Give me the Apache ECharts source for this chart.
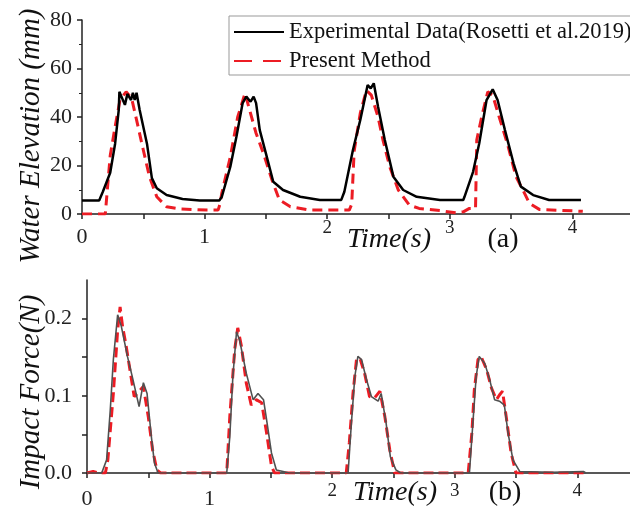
<!DOCTYPE html>
<html>
<head>
<meta charset="utf-8">
<script src="https://cdn.jsdelivr.net/npm/echarts@6/dist/echarts.min.js"></script>
<style>
  html, body { margin: 0; padding: 0; background: #fff; }
  #main { width: 630px; height: 514px; }
</style>
</head>
<body>
<div id="main"></div>
<script>
// (a) water elevation, mm
const expTimeA = [0, 0.14, 0.17, 0.23, 0.27, 0.30, 0.305, 0.35, 0.37, 0.40, 0.415, 0.43, 0.445, 0.47, 0.53, 0.57, 0.61, 0.69, 0.82, 0.96, 1.12,
  1.14, 1.21, 1.26, 1.31, 1.34, 1.375, 1.40, 1.42, 1.45, 1.50, 1.56, 1.64, 1.78, 1.94, 2.115,
  2.14, 2.21, 2.27, 2.31, 2.33, 2.355, 2.38, 2.415, 2.47, 2.54, 2.62, 2.73, 2.92, 3.11,
  3.12, 3.19, 3.24, 3.30, 3.35, 3.39, 3.45, 3.52, 3.58, 3.68, 3.81, 4.07];
const expElevA = [5.6, 5.6, 9.2, 17, 29, 43, 50.4, 45, 49.5, 47, 50, 47, 50, 43, 29, 14.8, 10.6, 7.8, 6.2, 5.6, 5.6,
  7, 19.5, 32, 45.7, 48.4, 46.3, 48.4, 45.7, 34.6, 25, 13.3, 9.9, 7.1, 5.8, 5.8,
  9.2, 26.4, 38.8, 48.4, 53.2, 51.8, 53.9, 44.2, 30.5, 15.4, 9.9, 7.1, 5.8, 5.8,
  7.1, 17.4, 29.1, 47, 51.4, 47, 34.6, 20.9, 11.3, 7.8, 5.8, 5.8];
const simTimeA = [0, 0.19, 0.20, 0.21, 0.23, 0.27, 0.31, 0.36, 0.405, 0.445, 0.50, 0.55, 0.61, 0.69, 0.80, 1.02, 1.11,
  1.125, 1.14, 1.21, 1.27, 1.33, 1.36, 1.42, 1.48, 1.55, 1.61, 1.70, 1.86, 2.18,
  2.20, 2.22, 2.27, 2.32, 2.36, 2.415, 2.455, 2.51, 2.58, 2.67, 2.75, 2.92, 3.05, 3.11, 3.16, 3.21,
  3.22, 3.26, 3.31, 3.35, 3.41, 3.47, 3.54, 3.61, 3.65, 3.73, 4.085];
const simElevA = [0, 0, 0, 12, 24, 36, 47, 50.4, 47.7, 38.8, 26.4, 15.4, 7.1, 3, 2.1, 1.6, 1.6,
  4, 8.5, 23.6, 40, 49.8, 44.2, 33.3, 25, 14, 5.8, 3, 1.6, 1.6,
  4, 26, 41.6, 51, 49, 40, 30.5, 19.5, 9.9, 3.7, 2.3, 1.4, 0.5, 0.9, 2.3, 2.3,
  30.5, 40, 50.4, 49, 38.8, 29, 15.4, 8.5, 4.4, 1.9, 1.1];

// (b) impact force, N
const expTimeB = [0, 0.12, 0.16, 0.19, 0.215, 0.25, 0.28, 0.33, 0.375, 0.425, 0.46, 0.49, 0.525, 0.55, 0.58,
  1.14, 1.165, 1.19, 1.22, 1.245, 1.30, 1.355, 1.395, 1.44, 1.465, 1.505, 1.545, 1.60, 1.65,
  2.13, 2.155, 2.185, 2.21, 2.24, 2.28, 2.32, 2.375, 2.40, 2.44, 2.475, 2.52, 2.56,
  3.12, 3.15, 3.175, 3.20, 3.245, 3.285, 3.325, 3.365, 3.405, 3.435, 3.475, 3.53, 3.80, 4.05, 4.07];
const expForceB = [0, 0, 0.017, 0.082, 0.147, 0.205, 0.19, 0.151, 0.121, 0.086, 0.117, 0.103, 0.047, 0.013, 0,
  0, 0.047, 0.125, 0.183, 0.172, 0.129, 0.095, 0.103, 0.095, 0.069, 0.026, 0.004, 0.002, 0,
  0, 0.06, 0.125, 0.151, 0.147, 0.121, 0.099, 0.093, 0.103, 0.065, 0.021, 0.004, 0,
  0, 0.069, 0.125, 0.151, 0.142, 0.121, 0.095, 0.093, 0.088, 0.052, 0.017, 0.002, 0.001, 0.002, 0];
const simTimeB = [0, 0.05, 0.10, 0.15, 0.17, 0.215, 0.25, 0.27, 0.29, 0.32, 0.355, 0.385, 0.41, 0.46, 0.50, 0.535, 0.57, 0.60,
  1.14, 1.165, 1.205, 1.23, 1.26, 1.30, 1.34, 1.38, 1.425, 1.465, 1.505, 1.53,
  2.115, 2.14, 2.17, 2.20, 2.23, 2.265, 2.305, 2.345, 2.39, 2.43, 2.47, 2.51,
  3.11, 3.14, 3.16, 3.19, 3.215, 3.26, 3.30, 3.34, 3.365, 3.39, 3.42, 3.46, 3.50, 4.08];
const simForceB = [0, 0.002, 0, 0, 0.017, 0.103, 0.185, 0.215, 0.19, 0.164, 0.129, 0.099, 0.103, 0.112, 0.073, 0.03, 0.004, 0,
  0, 0.073, 0.16, 0.188, 0.164, 0.116, 0.088, 0.095, 0.091, 0.052, 0.009, 0,
  0, 0.039, 0.103, 0.149, 0.147, 0.129, 0.099, 0.097, 0.106, 0.073, 0.03, 0,
  0, 0.052, 0.108, 0.147, 0.151, 0.134, 0.11, 0.095, 0.101, 0.106, 0.073, 0.026, 0, 0];

const legendNames = ["Experimental Data(Rosetti et al.2019)", "Present Method"];
const xLabelValues = [0, 1, 2, 3, 4];
const xTickValues = [0, 0.5, 1, 1.5, 2, 2.5, 3, 3.5, 4];
const yLabelValuesB = [0, 0.1, 0.2];
const yTickValuesB = [0, 0.05, 0.1, 0.15, 0.2];

const zip = (xs, ys) => xs.map((x, i) => [x, ys[i]]);

const FONT = '"Liberation Serif", "Times New Roman", serif';
const INK = "#222";
const RED = "#ec1c24";

// the 0 and 1 labels sit lower and a bit bigger than 2..4 in the original
function xAxisOf(gridIndex, max, margin, bigPad) {
  return {
    type: "value",
    gridIndex: gridIndex,
    min: 0,
    max: max,
    interval: 0.5,
    axisLine: { onZero: false, lineStyle: { color: INK, width: 1.5 } },
    axisTick: { customValues: xTickValues, length: 5, lineStyle: { color: INK, width: 1.5 } },
    axisLabel: {
      customValues: xLabelValues,
      color: INK, fontFamily: FONT, fontSize: 19, margin: margin,
      formatter: v => (v < 2 ? "{big|" + v + "}" : "" + v),
      rich: { big: { fontFamily: FONT, fontSize: 22, color: INK, padding: [bigPad, 0, 0, 0] } }
    },
    splitLine: { show: false }
  };
}

const chart = echarts.init(document.getElementById("main"));

const option = {
  backgroundColor: "#fff",
  animation: false,
  legend: {
    data: [
      { name: legendNames[0] },
      { name: legendNames[1], lineStyle: { type: [18, 11] } }
    ],
    orient: "vertical",
    left: 229,
    top: 16,
    padding: [4, 24, 2, 4],
    itemWidth: 50,
    itemHeight: 14,
    itemGap: 5,
    itemStyle: { opacity: 0 },
    borderColor: "#999",
    borderWidth: 1,
    backgroundColor: "#fff",
    textStyle: { fontFamily: FONT, fontSize: 22.5, color: "#111", lineHeight: 24 }
  },
  grid: [
    { left: 82, top: 20, right: 0, height: 194 },
    { left: 87, top: 280, right: 0, height: 193 }
  ],
  xAxis: [xAxisOf(0, 4.47, 5, 7), xAxisOf(1, 4.43, 9, 6)],
  yAxis: [
    {
      type: "value",
      gridIndex: 0,
      min: 0,
      max: 80,
      interval: 20,
      axisLine: { show: true, lineStyle: { color: INK, width: 1.5 } },
      axisTick: { show: true, length: 5, lineStyle: { color: INK, width: 1.5 } },
      minorTick: { show: true, splitNumber: 2, length: 3, lineStyle: { color: INK } },
      axisLabel: { color: INK, fontFamily: FONT, fontSize: 22, margin: 10 },
      splitLine: { show: false }
    },
    {
      type: "value",
      gridIndex: 1,
      min: 0,
      max: 0.25,
      interval: 0.05,
      axisLine: { show: true, lineStyle: { color: INK, width: 1.5 } },
      axisTick: { show: true, customValues: yTickValuesB, length: 5, lineStyle: { color: INK, width: 1.5 } },
      axisLabel: {
        customValues: yLabelValuesB,
        color: INK, fontFamily: FONT, fontSize: 22, margin: 15,
        formatter: v => v.toFixed(1)
      },
      splitLine: { show: false }
    }
  ],
  series: [
    {
      name: legendNames[0],
      type: "line",
      xAxisIndex: 0, yAxisIndex: 0,
      data: zip(expTimeA, expElevA),
      symbol: "none",
      lineStyle: { color: "#000", width: 2.5 },
      itemStyle: { color: "#000" },
      z: 3
    },
    {
      name: legendNames[1],
      type: "line",
      xAxisIndex: 0, yAxisIndex: 0,
      data: zip(simTimeA, simElevA),
      symbol: "none",
      lineStyle: { color: RED, width: 3, type: [10, 6] },
      itemStyle: { color: RED },
      z: 2
    },
    {
      name: "Experimental force",
      type: "line",
      xAxisIndex: 1, yAxisIndex: 1,
      data: zip(expTimeB, expForceB),
      symbol: "none",
      lineStyle: { color: "#505050", width: 1.6 },
      z: 3
    },
    {
      name: "Present force",
      type: "line",
      xAxisIndex: 1, yAxisIndex: 1,
      data: zip(simTimeB, simForceB),
      symbol: "none",
      lineStyle: { color: RED, width: 3, type: [10, 5] },
      z: 2
    }
  ],
  graphic: [
    {
      type: "text", x: 31, y: 136, rotation: Math.PI / 2,
      style: { text: "Water Elevation (mm)", font: "italic 29px " + FONT, fill: "#111", align: "center", verticalAlign: "middle" }
    },
    {
      type: "text", x: 31, y: 392, rotation: Math.PI / 2,
      style: { text: "Impact Force(N)", font: "italic 29px " + FONT, fill: "#111", align: "center", verticalAlign: "middle" }
    },
    {
      type: "text", x: 389, y: 240,
      style: { text: "Time(s)", font: "italic 28px " + FONT, fill: "#111", align: "center", verticalAlign: "middle" }
    },
    {
      type: "text", x: 503, y: 240,
      style: { text: "(a)", font: "28px " + FONT, fill: "#111", align: "center", verticalAlign: "middle" }
    },
    {
      type: "text", x: 395, y: 493,
      style: { text: "Time(s)", font: "italic 28px " + FONT, fill: "#111", align: "center", verticalAlign: "middle" }
    },
    {
      type: "text", x: 505, y: 493,
      style: { text: "(b)", font: "28px " + FONT, fill: "#111", align: "center", verticalAlign: "middle" }
    }
  ]
};

chart.setOption(option);
</script>
</body>
</html>
